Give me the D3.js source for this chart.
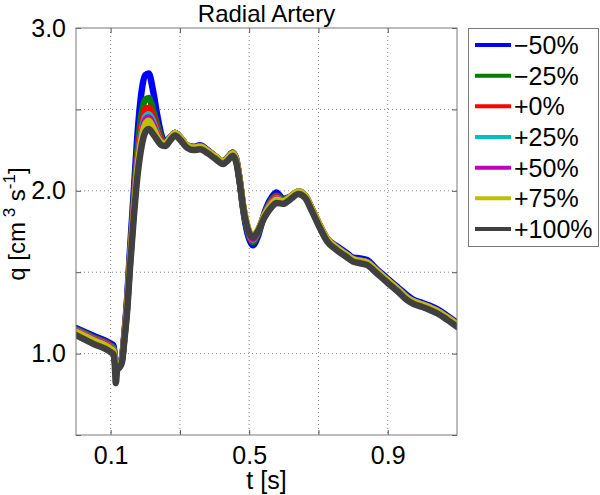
<!DOCTYPE html>
<html><head><meta charset="utf-8">
<script src="https://cdn.jsdelivr.net/npm/d3@7"></script>
<style>
html,body{margin:0;padding:0;background:#fff;}
svg{display:block;font-family:"Liberation Sans",Arial,Helvetica,sans-serif;}
</style></head><body>
<div id="chart"></div>
<script>
const title = "Radial Artery";
const xLabel = "t [s]";
const xTicks = [0.1, 0.3, 0.5, 0.7, 0.9];
const xTickLabels = ["0.1", "", "0.5", "", "0.9"];
const yTicks = [0.5, 1.0, 1.5, 2.0, 2.5, 3.0];
const yTickLabels = ["", "1.0", "", "2.0", "", "3.0"];
const seriesNames = ["\u221250%", "\u221225%", "+0%", "+25%", "+50%", "+75%", "+100%"];
const seriesColors = ["#0000ff", "#007f00", "#ff0000", "#00bfbf", "#bf00bf", "#bfbf00", "#404040"];

const t = [0, 0.05, 0.10, 0.108, 0.112, 0.115, 0.119, 0.126, 0.133, 0.140, 0.148, 0.156, 0.167, 0.178, 0.19, 0.20, 0.21, 0.222, 0.235, 0.247, 0.258, 0.272, 0.286, 0.30, 0.32, 0.34, 0.358, 0.38, 0.40, 0.425, 0.44, 0.452, 0.462, 0.472, 0.483, 0.495, 0.511, 0.525, 0.545, 0.565, 0.579, 0.598, 0.62, 0.642, 0.662, 0.68, 0.70, 0.725, 0.753, 0.78, 0.80, 0.82, 0.84, 0.865, 0.897, 0.93, 0.955, 0.975, 0.995, 1.02, 1.045, 1.07, 1.1];

const qMinus50 = [1.157, 1.11, 1.062, 1.05, 0.99, 0.925, 0.92, 0.93, 0.975, 1.13, 1.35, 1.64, 2.00, 2.36, 2.62, 2.71, 2.72, 2.62, 2.46, 2.34, 2.30, 2.33, 2.355, 2.33, 2.28, 2.27, 2.28, 2.25, 2.215, 2.18, 2.21, 2.235, 2.20, 2.07, 1.88, 1.74, 1.665, 1.72, 1.87, 1.96, 1.99, 1.95, 1.965, 1.99, 1.965, 1.89, 1.80, 1.705, 1.66, 1.62, 1.59, 1.585, 1.575, 1.525, 1.465, 1.405, 1.36, 1.33, 1.315, 1.295, 1.27, 1.235, 1.19];
const qMinus25 = [1.15, 1.10, 1.05, 1.035, 0.98, 0.92, 0.915, 0.93, 0.97, 1.12, 1.33, 1.60, 1.95, 2.26, 2.48, 2.56, 2.57, 2.50, 2.40, 2.32, 2.295, 2.325, 2.355, 2.33, 2.28, 2.267, 2.275, 2.247, 2.215, 2.18, 2.207, 2.232, 2.198, 2.072, 1.89, 1.76, 1.685, 1.735, 1.86, 1.945, 1.97, 1.945, 1.965, 1.993, 1.967, 1.893, 1.803, 1.703, 1.65, 1.61, 1.58, 1.572, 1.562, 1.515, 1.455, 1.395, 1.347, 1.32, 1.305, 1.285, 1.26, 1.225, 1.182];
const qPlus0 = [1.145, 1.095, 1.045, 1.03, 0.975, 0.915, 0.915, 0.928, 0.968, 1.115, 1.315, 1.585, 1.92, 2.21, 2.41, 2.50, 2.51, 2.46, 2.37, 2.31, 2.293, 2.325, 2.355, 2.33, 2.28, 2.266, 2.273, 2.246, 2.215, 2.18, 2.206, 2.231, 2.197, 2.073, 1.895, 1.77, 1.695, 1.745, 1.857, 1.935, 1.96, 1.94, 1.965, 1.994, 1.968, 1.894, 1.804, 1.704, 1.65, 1.61, 1.58, 1.571, 1.561, 1.515, 1.455, 1.395, 1.346, 1.32, 1.305, 1.285, 1.26, 1.225, 1.181];
const qPlus25 = [1.142, 1.092, 1.04, 1.025, 0.97, 0.912, 0.913, 0.927, 0.967, 1.11, 1.305, 1.575, 1.90, 2.18, 2.37, 2.455, 2.47, 2.43, 2.35, 2.30, 2.292, 2.325, 2.355, 2.33, 2.28, 2.266, 2.272, 2.246, 2.215, 2.18, 2.206, 2.231, 2.196, 2.074, 1.90, 1.775, 1.70, 1.75, 1.856, 1.93, 1.955, 1.938, 1.965, 1.995, 1.969, 1.894, 1.804, 1.704, 1.65, 1.61, 1.58, 1.571, 1.561, 1.515, 1.455, 1.395, 1.346, 1.32, 1.305, 1.285, 1.26, 1.225, 1.181];
const qPlus50 = [1.139, 1.088, 1.036, 1.02, 0.965, 0.908, 0.911, 0.926, 0.966, 1.105, 1.30, 1.565, 1.89, 2.165, 2.35, 2.435, 2.45, 2.41, 2.34, 2.297, 2.291, 2.325, 2.355, 2.33, 2.28, 2.265, 2.271, 2.245, 2.215, 2.18, 2.205, 2.23, 2.195, 2.075, 1.902, 1.78, 1.705, 1.755, 1.855, 1.925, 1.95, 1.936, 1.965, 1.995, 1.97, 1.895, 1.805, 1.705, 1.65, 1.61, 1.58, 1.57, 1.56, 1.515, 1.455, 1.395, 1.345, 1.32, 1.305, 1.285, 1.26, 1.225, 1.18];
const qPlus75 = [1.135, 1.083, 1.03, 1.015, 0.96, 0.905, 0.91, 0.925, 0.965, 1.10, 1.295, 1.56, 1.875, 2.15, 2.33, 2.41, 2.43, 2.39, 2.33, 2.295, 2.29, 2.325, 2.355, 2.33, 2.28, 2.265, 2.27, 2.245, 2.215, 2.18, 2.205, 2.23, 2.195, 2.075, 1.905, 1.785, 1.725, 1.76, 1.855, 1.92, 1.945, 1.935, 1.965, 1.995, 1.97, 1.895, 1.805, 1.705, 1.65, 1.61, 1.58, 1.57, 1.56, 1.515, 1.455, 1.395, 1.345, 1.32, 1.305, 1.285, 1.26, 1.225, 1.18];
const qPlus100 = [1.113, 1.06, 1.009, 0.995, 0.93, 0.82, 0.90, 0.915, 0.95, 1.09, 1.27, 1.53, 1.84, 2.10, 2.28, 2.36, 2.38, 2.35, 2.31, 2.28, 2.275, 2.31, 2.34, 2.315, 2.265, 2.25, 2.255, 2.23, 2.20, 2.165, 2.19, 2.215, 2.18, 2.06, 1.89, 1.77, 1.715, 1.75, 1.84, 1.90, 1.925, 1.92, 1.95, 1.98, 1.955, 1.88, 1.79, 1.69, 1.635, 1.595, 1.565, 1.555, 1.545, 1.50, 1.44, 1.38, 1.33, 1.305, 1.29, 1.27, 1.245, 1.21, 1.165];

const seriesValues = [qMinus50, qMinus25, qPlus0, qPlus25, qPlus50, qPlus75, qPlus100];

const W = 600, H = 495;
const plot = {left: 76, right: 457, top: 28, bottom: 435};
const FONT = 25;
const FF = "Liberation Sans, Arial, sans-serif";

const svg = d3.select("#chart").append("svg").attr("width", W).attr("height", H);

const x = d3.scaleLinear().domain([0, 1.1]).range([plot.left, plot.right]);
const y = d3.scaleLinear().domain([0.5, 3.0]).range([plot.bottom, plot.top]);

// grid
const gridColor = "#8a8a8a";
svg.append("g").selectAll("line").data(xTicks).join("line")
  .attr("x1", d => x(d)).attr("x2", d => x(d))
  .attr("y1", plot.top).attr("y2", plot.bottom)
  .attr("stroke", gridColor).attr("stroke-width", 1).attr("stroke-dasharray", "1,3");
svg.append("g").selectAll("line").data(yTicks.filter(v => v > 0.5 && v < 3.0)).join("line")
  .attr("x1", plot.left).attr("x2", plot.right)
  .attr("y1", d => y(d)).attr("y2", d => y(d))
  .attr("stroke", gridColor).attr("stroke-width", 1).attr("stroke-dasharray", "1,3");

// lines
svg.append("defs").append("clipPath").attr("id", "clip").append("rect")
  .attr("x", plot.left).attr("y", plot.top)
  .attr("width", plot.right - plot.left).attr("height", plot.bottom - plot.top);

const line = d3.line().x((d, i) => x(t[i])).y(d => y(d)).curve(d3.curveMonotoneX);
svg.append("g").attr("clip-path", "url(#clip)").selectAll("path").data(seriesValues).join("path")
  .attr("d", d => line(d))
  .attr("fill", "none")
  .attr("stroke", (d, i) => seriesColors[i])
  .attr("stroke-width", 6.5)
  .attr("stroke-linejoin", "round")
  .attr("stroke-linecap", "round");

// axes
const xAxis = d3.axisBottom(x).tickValues(xTicks).tickFormat((d, i) => xTickLabels[i]).tickSizeInner(-5).tickSizeOuter(0).tickPadding(11);
const gx = svg.append("g").attr("transform", `translate(0,${plot.bottom})`).call(xAxis);
gx.select(".domain").remove();
gx.selectAll("line").attr("stroke", "#555");
gx.selectAll("text").attr("font-size", FONT).attr("fill", "#000").attr("font-family", FF);

const yAxis = d3.axisLeft(y).tickValues(yTicks).tickFormat((d, i) => yTickLabels[i]).tickSizeInner(-5).tickSizeOuter(0).tickPadding(10);
const gy = svg.append("g").attr("transform", `translate(${plot.left},0)`).call(yAxis);
gy.select(".domain").remove();
gy.selectAll("line").attr("stroke", "#555");
gy.selectAll("text").attr("font-size", FONT).attr("fill", "#000").attr("font-family", FF);

// top/right ticks
const xAxisTop = d3.axisTop(x).tickValues(xTicks).tickFormat("").tickSizeInner(-5).tickSizeOuter(0);
const gxt = svg.append("g").attr("transform", `translate(0,${plot.top})`).call(xAxisTop);
gxt.select(".domain").remove(); gxt.selectAll("line").attr("stroke", "#555");
const yAxisRight = d3.axisRight(y).tickValues(yTicks).tickFormat("").tickSizeInner(-5).tickSizeOuter(0);
const gyr = svg.append("g").attr("transform", `translate(${plot.right},0)`).call(yAxisRight);
gyr.select(".domain").remove(); gyr.selectAll("line").attr("stroke", "#555");

// frame
svg.append("rect").attr("x", plot.left).attr("y", plot.top)
  .attr("width", plot.right - plot.left).attr("height", plot.bottom - plot.top)
  .attr("fill", "none").attr("stroke", "#7a7a7a").attr("stroke-width", 1);

// title & labels
svg.append("text").attr("x", (plot.left + plot.right) / 2).attr("y", 22)
  .attr("text-anchor", "middle").attr("font-size", 24).text(title);
svg.append("text").attr("x", (plot.left + plot.right) / 2).attr("y", 489)
  .attr("text-anchor", "middle").attr("font-size", FONT).text(xLabel);

const yl = svg.append("text").attr("transform", "translate(25,224) rotate(-90)")
  .attr("text-anchor", "middle").attr("font-size", 24);
yl.append("tspan").text("q [cm");
yl.append("tspan").attr("font-size", 17).attr("dy", -10).text(" 3");
yl.append("tspan").attr("dy", 10).text(" s");
yl.append("tspan").attr("font-size", 17).attr("dy", -10).text("-1");
yl.append("tspan").attr("dy", 10).text("]");

// legend
const leg = {x: 468, y: 28, w: 131, h: 218};
svg.append("rect").attr("x", leg.x + 0.5).attr("y", leg.y + 0.5).attr("width", leg.w - 1).attr("height", leg.h)
  .attr("fill", "#fff").attr("stroke", "#7a7a7a").attr("stroke-width", 1);
const ly = d3.scalePoint().domain(seriesNames).range([45, 229]);
const lg = svg.append("g").selectAll("g").data(seriesNames).join("g")
  .attr("transform", d => `translate(0,${ly(d)})`);
lg.append("line").attr("x1", 475).attr("x2", 511).attr("y1", 0).attr("y2", 0)
  .attr("stroke", (d, i) => seriesColors[i]).attr("stroke-width", 4);
lg.append("text").attr("x", 514).attr("y", 0).attr("dy", "0.36em")
  .attr("font-size", FONT).text(d => d);
</script>
</body></html>
